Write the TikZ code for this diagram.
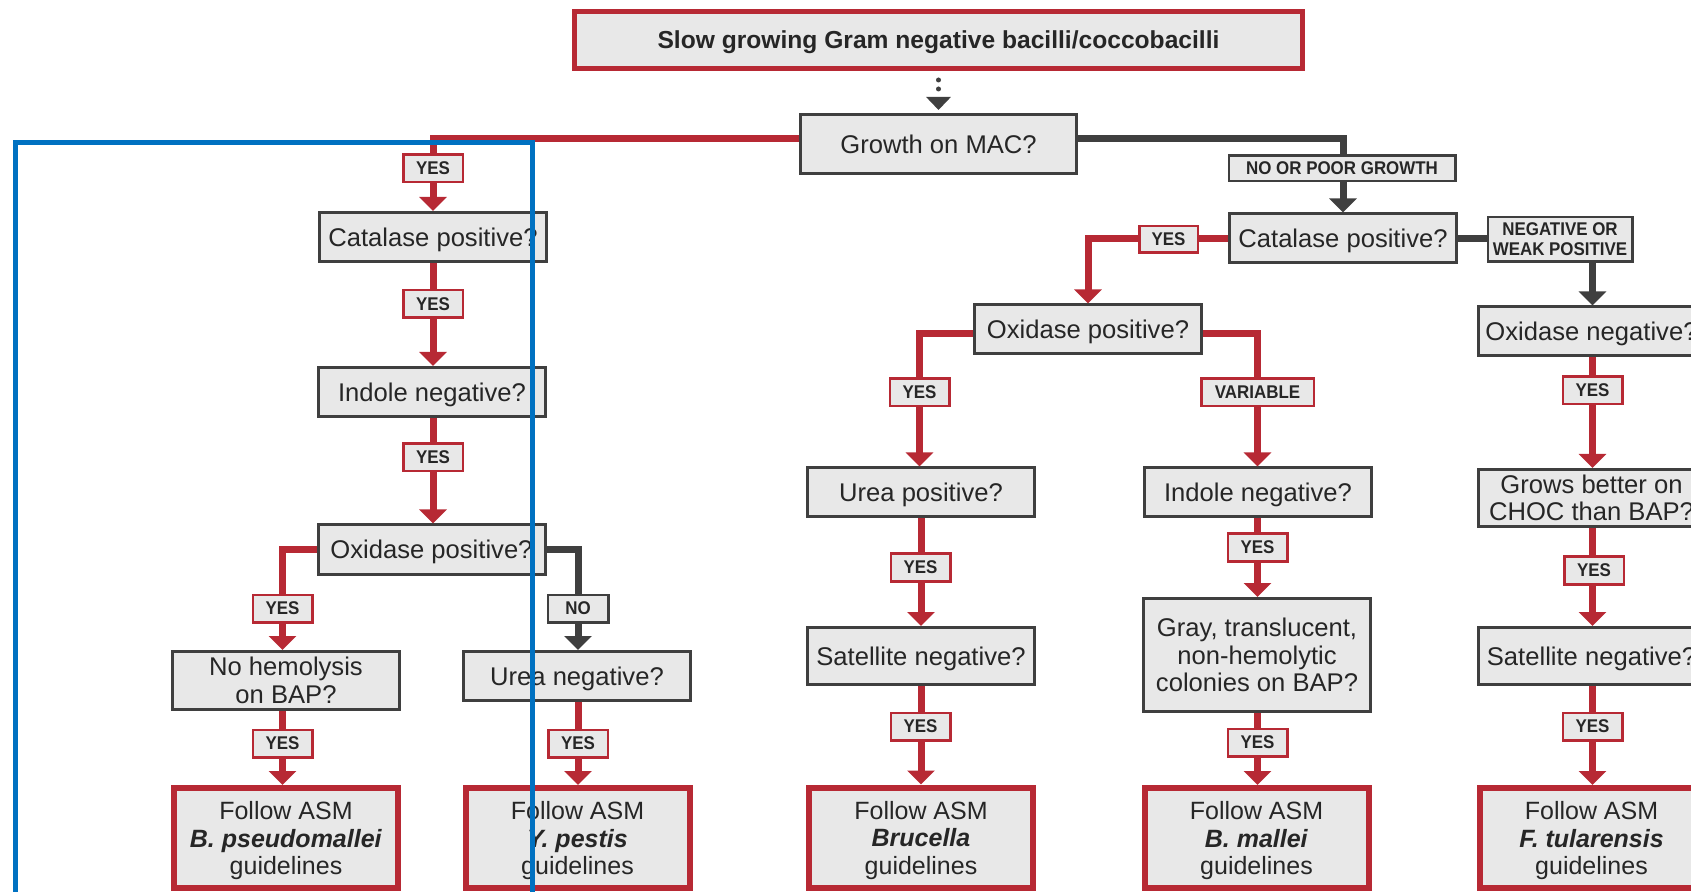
\documentclass[tikz,border=0pt]{standalone}
\usepackage{fontspec}
\setmainfont{Liberation Sans}
\newfontfamily\lblfont{Liberation Sans}[FakeStretch=0.92]
\usetikzlibrary{arrows.meta}
\definecolor{myred}{HTML}{B72934}
\definecolor{mydark}{HTML}{3F3F3F}
\definecolor{myfill}{HTML}{E8E8E8}
\definecolor{myblue}{HTML}{0071C1}
\definecolor{txt}{HTML}{262626}

\begin{document}
\begin{tikzpicture}[x=0.5pt,y=-0.5pt,
  box/.style={fill=myfill, inner sep=0pt, align=center, text=txt},
  qbox/.style={box, draw=mydark, line width=1.5pt, minimum width=113.5pt, minimum height=24.5pt,
    font=\fontsize{12.8}{13.75}\selectfont},
  single/.style={text depth=0pt},
  gbox/.style={box, draw=myred, line width=3pt, minimum width=112pt, minimum height=50pt,
    text depth=0pt, font=\fontsize{12.5}{13.75}\selectfont},
  titlebox/.style={box, draw=myred, line width=2.5pt, minimum width=364pt, minimum height=28.5pt,
    text depth=0pt, font=\bfseries\fontsize{12.3}{14}\selectfont},
  growthbox/.style={box, draw=mydark, line width=1.5pt, minimum width=138pt, minimum height=29.5pt,
    font=\fontsize{12.8}{13.75}\selectfont},
  lab/.style={box, line width=1.25pt, minimum width=29.75pt, minimum height=13.75pt,
    font=\lblfont\bfseries\fontsize{9.2}{10}\selectfont},
  ylab/.style={lab, draw=myred},
  nlab/.style={lab, draw=mydark},
  tip/.style={-{Triangle[width=13.5pt,length=7pt]}},
  rline/.style={draw=myred, line width=3.5pt, tip},
  dline/.style={draw=mydark, line width=3.5pt, tip},
  dplain/.style={draw=mydark, line width=3.5pt},
  dotarrow/.style={draw=mydark, line width=2.5pt, line cap=round, dash pattern=on 0pt off 4.5pt,
    shorten <=4.5pt, shorten >=1.5pt, -{Triangle[width=12pt,length=6.5pt]}},
  frame/.style={draw=myblue, line width=2.5pt},
]
\useasboundingbox (0,0) rectangle (1691,892);
\clip (0,0) rectangle (1691,892);

% ---------- boxes ----------
\node[titlebox] (title) at (938.5,40) {Slow growing Gram negative bacilli/coccobacilli};
\node[growthbox] (growth) at (938.5,144) {Growth on MAC?};

% left branch
\node[qbox, single] (catL) at (433,237) {Catalase positive?};
\node[qbox, single] (indL) at (432,392) {Indole negative?};
\node[qbox, single] (oxL) at (431.5,549.5) {Oxidase positive?};
\node[qbox, minimum height=29pt] (hem) at (286,680.5) {No hemolysis\\on BAP?};
\node[qbox, single] (ureaN) at (577,676) {Urea negative?};
\node[gbox] (fPse) at (286,838) {Follow ASM\\\textbf{\textit{B. pseudomallei}}\\guidelines};
\node[gbox] (fPes) at (577.5,838) {Follow ASM\\\textbf{\textit{Y. pestis}}\\guidelines};

% middle branch
\node[qbox, single] (catR) at (1343,238.5) {Catalase positive?};
\node[qbox, single] (oxM) at (1088,329.5) {Oxidase positive?};
\node[qbox, single] (ureaP) at (921,492.5) {Urea positive?};
\node[qbox, single] (indM) at (1258,492.5) {Indole negative?};
\node[qbox, single, minimum height=28.5pt] (satM) at (921,656) {Satellite negative?};
\node[qbox, minimum height=56.5pt] (gray) at (1257,655) {Gray, translucent,\\non-hemolytic\\colonies on BAP?};
\node[gbox] (fBru) at (921,837.5) {Follow ASM\\\textbf{\textit{Brucella}}\\guidelines};
\node[gbox] (fMal) at (1256.5,838) {Follow ASM\\\textbf{\textit{B. mallei}}\\guidelines};

% right branch
\node[qbox, single] (oxN) at (1591.5,331.5) {Oxidase negative?};
\node[qbox, minimum height=28.5pt] (grows) at (1591.5,498) {Grows better on\\CHOC than BAP?};
\node[qbox, single, minimum height=28.5pt] (satR) at (1591.5,656) {Satellite negative?};
\node[gbox] (fTul) at (1591.5,838) {Follow ASM\\\textbf{\textit{F. tularensis}}\\guidelines};

% ---------- label positions ----------
\coordinate (pYes4) at (282.5,0);
\coordinate (pNo1) at (578,0);
\coordinate (pYesM1) at (919.5,0);
\coordinate (pVar) at (1257.5,0);
\coordinate (pR) at (1592.5,0);

% ---------- connectors ----------
\draw[dotarrow] (title.south) -- (growth.north);
\draw[rline] ([yshift=2.5pt]growth.west) -| (catL.north);
\draw[dline] ([yshift=2.5pt]growth.east) -| (catR.north);

\draw[rline] (catL.south) -- (catL.south |- indL.north);
\draw[rline] (catL.south |- indL.south) -- (catL.south |- oxL.north);
\draw[rline] (oxL.west) -| (hem.north -| pYes4);
\draw[dline] (oxL.east) -| (ureaN.north -| pNo1);
\draw[rline] (hem.south -| pYes4) -- (fPse.north -| pYes4);
\draw[rline] (ureaN.south -| pNo1) -- (fPes.north -| pNo1);

\draw[rline] (catR.west) -| (oxM.north);
\draw[rline] ([yshift=-2pt]oxM.west) -| (ureaP.north -| pYesM1);
\draw[rline] ([yshift=-2pt]oxM.east) -| (indM.north -| pVar);
\draw[rline] (ureaP.south) -- (satM.north);
\draw[rline] (satM.south) -- (fBru.north);
\draw[rline] (indM.south -| pVar) -- (gray.north -| pVar);
\draw[rline] (gray.south -| pVar) -- (fMal.north -| pVar);

\node[nlab, minimum width=72.25pt, minimum height=22.25pt] (neg) at (1560,239.5) {NEGATIVE OR\\WEAK POSITIVE};
\draw[dplain] (catR.east) -- (catR.east -| neg.west);
\draw[dline] (neg.south -| pR) -- (oxN.north -| pR);
\draw[rline] (oxN.south -| pR) -- (grows.north -| pR);
\draw[rline] (grows.south -| pR) -- (satR.north -| pR);
\draw[rline] (satR.south -| pR) -- (fTul.north -| pR);

% ---------- branch labels ----------
\node[ylab] (yes1) at (433,168.5) {YES};
\node[ylab] (yes2) at (433,304) {YES};
\node[ylab] (yes3) at (433,457.5) {YES};
\node[ylab] (yes4) at (282.5,608.5) {YES};
\node[nlab, minimum width=30.25pt] (no1) at (578,608.5) {NO};
\node[ylab] (yes5) at (282.5,743.5) {YES};
\node[ylab] (yes6) at (578,743.5) {YES};
\node[nlab, minimum width=113.25pt, minimum height=12.75pt] (nopg) at (1342,168.5) {NO OR POOR GROWTH};
\node[ylab, minimum width=29.25pt, minimum height=13.25pt] (yesC) at (1168.5,239.5) {YES};
\node[ylab] (yesM1) at (919.5,392.5) {YES};
\node[ylab, minimum width=56.25pt] (var) at (1257.5,392.5) {VARIABLE};
\node[ylab] (yesM2) at (920.5,567.5) {YES};
\node[ylab] (yesM3) at (920.5,726.5) {YES};
\node[ylab] (yesI) at (1257.5,547.5) {YES};
\node[ylab] (yesG) at (1257.5,742.5) {YES};
\node[ylab] (yesR1) at (1592.5,390.5) {YES};
\node[ylab] (yesR2) at (1594,570.5) {YES};
\node[ylab] (yesR3) at (1592.5,726.5) {YES};

% ---------- highlight frame ----------
\draw[frame] (15,960) -- (15,142.5) -- (532,142.5) -- (532,960);
\end{tikzpicture}
\end{document}
